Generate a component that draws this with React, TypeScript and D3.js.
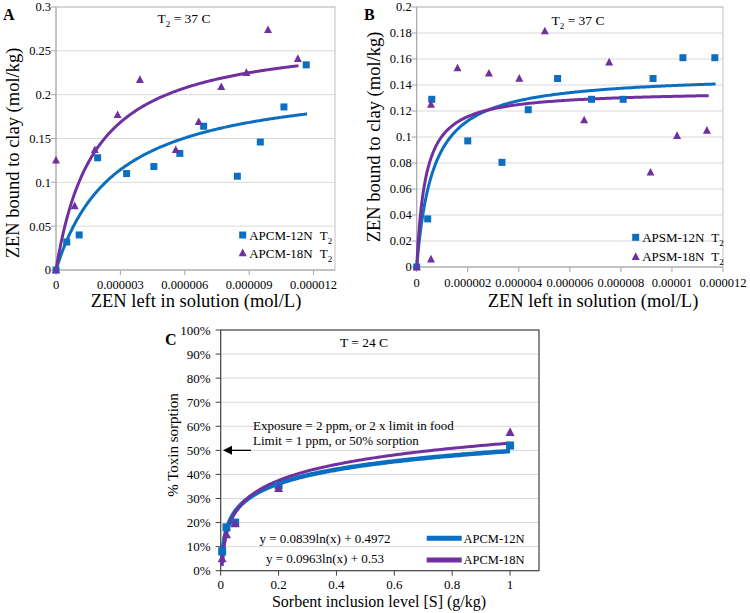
import React from "react";
import * as d3 from "d3";

// ---------- Panel A data ----------
const A_SQ_X = [0, 0.5e-6, 1.08e-6, 1.94e-6, 3.29e-6, 4.56e-6, 5.77e-6, 6.88e-6, 8.45e-6, 9.52e-6, 10.62e-6, 11.66e-6];
const A_SQ_Y = [0, 0.032, 0.04, 0.128, 0.11, 0.118, 0.133, 0.164, 0.107, 0.146, 0.186, 0.234];
const A_TRI_X = [0, 0, 0.87e-6, 1.81e-6, 2.87e-6, 3.91e-6, 5.58e-6, 6.65e-6, 7.7e-6, 8.87e-6, 9.88e-6, 11.27e-6];
const A_TRI_Y = [0.125, 0, 0.073, 0.137, 0.177, 0.217, 0.137, 0.169, 0.209, 0.225, 0.274, 0.241];
const A_X_TICKS = [0, 3e-6, 6e-6, 9e-6, 12e-6];
const A_X_LABELS = ["0", "0.000003", "0.000006", "0.000009", "0.000012"];
const A_Y_TICKS = [0, 0.05, 0.1, 0.15, 0.2, 0.25, 0.3];
const A_Y_LABELS = ["0", "0.05", "0.1", "0.15", "0.2", "0.25", "0.3"];
// Langmuir fit parameters [Qmax, K, xEnd]
const A_FIT_12 = [0.2203, 0.36e6, 11.7e-6];
const A_FIT_18 = [0.2705, 0.55e6, 11.3e-6];
const A_SERIES = ["APCM-12N", "APCM-18N"];

// ---------- Panel B data ----------
const B_SQ_X = [0, 0.43e-6, 0.59e-6, 2.0e-6, 3.34e-6, 4.37e-6, 5.52e-6, 6.85e-6, 8.09e-6, 9.26e-6, 10.43e-6, 11.68e-6];
const B_SQ_Y = [0, 0.037, 0.129, 0.097, 0.0805, 0.121, 0.145, 0.129, 0.129, 0.145, 0.161, 0.161];
const B_TRI_X = [0, 0.56e-6, 0.56e-6, 1.6e-6, 2.83e-6, 4.02e-6, 5.02e-6, 6.56e-6, 7.54e-6, 9.16e-6, 10.2e-6, 11.37e-6];
const B_TRI_Y = [0, 0.006, 0.125, 0.153, 0.149, 0.145, 0.1815, 0.113, 0.1575, 0.0728, 0.101, 0.105];
const B_X_TICKS = [0, 2e-6, 4e-6, 6e-6, 8e-6, 10e-6, 12e-6];
const B_X_LABELS = ["0", "0.000002", "0.000004", "0.000006", "0.000008", "0.00001", "0.000012"];
const B_Y_TICKS = [0, 0.02, 0.04, 0.06, 0.08, 0.1, 0.12, 0.14, 0.16, 0.18, 0.2];
const B_Y_LABELS = ["0", "0.02", "0.04", "0.06", "0.08", "0.1", "0.12", "0.14", "0.16", "0.18", "0.2"];
const B_FIT_12 = [0.1485, 1.555e6, 11.71e-6];
const B_FIT_18 = [0.1358, 2.88e6, 11.44e-6];
const B_SERIES = ["APSM-12N", "APSM-18N"];

// ---------- Panel C data ----------
const C_X = [0.005, 0.02, 0.05, 0.2, 1];
const C_SQ_Y = [0.08, 0.18, 0.2, 0.355, 0.52];
const C_TRI_Y = [0.05, 0.15, 0.195, 0.342, 0.575];
const C_X_TICKS = [0, 0.2, 0.4, 0.6, 0.8, 1];
const C_X_LABELS = ["0", "0.2", "0.4", "0.6", "0.8", "1"];
const C_Y_TICKS = [0, 0.1, 0.2, 0.3, 0.4, 0.5, 0.6, 0.7, 0.8, 0.9, 1];
const C_Y_LABELS = ["0%", "10%", "20%", "30%", "40%", "50%", "60%", "70%", "80%", "90%", "100%"];
// log fits [a, b]
const C_FIT_12 = [0.0839, 0.4972];
const C_FIT_18 = [0.0963, 0.53];
const C_SERIES = ["APCM-12N", "APCM-18N"];
const C_EQS = ["y = 0.0839ln(x) + 0.4972", "y = 0.0963ln(x) + 0.53"];

const BLUE = "#0a6fc0";
const PURPLE = "#7030a0";
const GRID = "#d9d9d9";
const FONT = "Liberation Serif";

function Txt(p: any) {
  const { style, children, ...rest } = p;
  return (
    <text {...rest} style={{ fontFamily: FONT, ...(style || {}) }}>
      {children}
    </text>
  );
}

const sq = (x: number, y: number, s: number) => `M${x - s / 2},${y - s / 2}h${s}v${s}h${-s}Z`;
const tri = (x: number, y: number, s: number) =>
  `M${x},${y - s * 0.55}L${x + s / 2},${y + s * 0.4}L${x - s / 2},${y + s * 0.4}Z`;

function langmuirPts(p: number[]) {
  const [Q, K, xe] = p;
  return d3.range(0, 201).map((i) => {
    const x = (xe * i) / 200;
    return [x, (Q * K * x) / (1 + K * x)] as [number, number];
  });
}
function logPts(p: number[], x0: number, x1: number) {
  const [a, b] = p;
  return d3.range(0, 301).map((i) => {
    const x = Math.exp(Math.log(x0) + ((Math.log(x1) - Math.log(x0)) * i) / 300);
    return [x, a * Math.log(x) + b] as [number, number];
  });
}

function IsoPanel(props: any) {
  const { x, y, sqX, sqY, triX, triY, xTicks, xLabels, yTicks, yLabels, fit12, fit18, series, letter, letterX, yTitleX, yTitleY, xTitleX, tX, tY, legX, legY1, legY2, xLabY } = props;
  const line = d3.line<[number, number]>().x((d) => x(d[0])).y((d) => y(d[1]));
  const [x0, x1] = x.range();
  const [y0, y1] = y.range();
  return (
    <g>
      {yTicks.map((t: number, i: number) => (
        <g key={"g" + i}>
          {i > 0 && <line x1={x0} x2={x1} y1={y(t)} y2={y(t)} stroke={GRID} strokeWidth={1} />}
          <line x1={x0 - 5} x2={x0} y1={y(t)} y2={y(t)} stroke="#a6a6a6" />
          <Txt x={x0 - 5} y={y(t)} dy="0.35em" textAnchor="end" fontSize={12.5}>{yLabels[i]}</Txt>
        </g>
      ))}
      <rect x={x0} y={y1} width={x1 - x0} height={y0 - y1} fill="none" stroke="#bfbfbf" />
      <line x1={x0} x2={x0} y1={y1} y2={y0} stroke="#a6a6a6" />
      <line x1={x0} x2={x1} y1={y0} y2={y0} stroke="#a6a6a6" />
      {xTicks.map((t: number, i: number) => (
        <g key={"x" + i}>
          <line x1={x(t)} x2={x(t)} y1={y0} y2={y0 + 5} stroke="#a6a6a6" />
          <Txt x={x(t)} y={xLabY} textAnchor="middle" fontSize={12.5}>{xLabels[i]}</Txt>
        </g>
      ))}
      <path d={line(langmuirPts(fit12)) || ""} fill="none" stroke={BLUE} strokeWidth={3} />
      <path d={line(langmuirPts(fit18)) || ""} fill="none" stroke={PURPLE} strokeWidth={3} />
      {sqX.map((v: number, i: number) => (
        <path key={"s" + i} d={sq(x(v), y(sqY[i]), 7)} fill={BLUE} />
      ))}
      {triX.map((v: number, i: number) => (
        <path key={"t" + i} d={tri(x(v), y(triY[i]), 8)} fill={PURPLE} />
      ))}
      <Txt x={letterX} y={20} fontWeight="bold" fontSize={16}>{letter}</Txt>
      <Txt x={tX} y={tY} fontSize={13.5} textAnchor="middle">
        T<tspan fontSize={9} dy={4}>2</tspan><tspan dy={-4}> = 37 C</tspan>
      </Txt>
      <Txt transform={`translate(${yTitleX},${yTitleY}) rotate(-90)`} textAnchor="middle" dominantBaseline="central" fontSize={18.5}>
        ZEN bound to clay (mol/kg)
      </Txt>
      <Txt x={xTitleX} y={307} textAnchor="middle" fontSize={18.5}>ZEN left in solution (mol/L)</Txt>
      <path d={sq(legX, legY1, 7)} fill={BLUE} />
      <path d={tri(legX, legY2, 8)} fill={PURPLE} />
      {[legY1, legY2].map((ly: number, i: number) => (
        <Txt key={"l" + i} x={legX + 6.5} y={ly} dy="0.35em" fontSize={13}>
          {series[i]}<tspan dx={7}>T</tspan><tspan fontSize={9} dy={4}>2</tspan>
        </Txt>
      ))}
    </g>
  );
}

export default function App() {
  const xA = d3.scaleLinear().domain([0, 13e-6]).range([56, 335]);
  const yA = d3.scaleLinear().domain([0, 0.3]).range([270, 7]);
  const xB = d3.scaleLinear().domain([0, 12e-6]).range([416.7, 723]);
  const yB = d3.scaleLinear().domain([0, 0.2]).range([267, 7]);
  const xC = d3.scaleLinear().domain([0, 1.1]).range([220.7, 539]);
  const yC = d3.scaleLinear().domain([0, 1]).range([570.7, 330]);
  const lineC = d3.line<[number, number]>().x((d) => xC(d[0])).y((d) => yC(d[1]));
  const xMin = d3.min(C_X) as number;
  const xMax = d3.max(C_X) as number;
  const [cx0, cx1] = xC.range();
  const [cy0, cy1] = yC.range();

  return (
    <svg width={750} height={613} style={{ position: "absolute", left: 0, top: 0, background: "#fff" }}>
      <rect x={0} y={0} width={750} height={613} fill="#fff" />
      <IsoPanel x={xA} y={yA} sqX={A_SQ_X} sqY={A_SQ_Y} triX={A_TRI_X} triY={A_TRI_Y}
        xTicks={A_X_TICKS} xLabels={A_X_LABELS} yTicks={A_Y_TICKS} yLabels={A_Y_LABELS}
        fit12={A_FIT_12} fit18={A_FIT_18} series={A_SERIES} letter="A" letterX={3}
        yTitleX={13} yTitleY={153} xTitleX={196} tX={184} tY={23} legX={242.7} legY1={235} legY2={253} xLabY={289} />
      <IsoPanel x={xB} y={yB} sqX={B_SQ_X} sqY={B_SQ_Y} triX={B_TRI_X} triY={B_TRI_Y}
        xTicks={B_X_TICKS} xLabels={B_X_LABELS} yTicks={B_Y_TICKS} yLabels={B_Y_LABELS}
        fit12={B_FIT_12} fit18={B_FIT_18} series={B_SERIES} letter="B" letterX={364}
        yTitleX={374} yTitleY={137} xTitleX={593} tX={578} tY={25} legX={635.7} legY1={237.3} legY2={256.7} xLabY={286.5} />

      {/* Panel C */}
      <g>
        {C_Y_TICKS.map((t, i) => (
          <g key={"cg" + i}>
            {i > 0 && i < C_Y_TICKS.length - 1 && <line x1={cx0} x2={cx1} y1={yC(t)} y2={yC(t)} stroke={GRID} />}
            <line x1={cx0 - 5} x2={cx0} y1={yC(t)} y2={yC(t)} stroke="#404040" />
            <Txt x={cx0 - 10} y={yC(t)} dy="0.35em" textAnchor="end" fontSize={13}>{C_Y_LABELS[i]}</Txt>
          </g>
        ))}
        <rect x={cx0} y={cy1} width={cx1 - cx0} height={cy0 - cy1} fill="none" stroke="#404040" strokeWidth={1.2} />
        {C_X_TICKS.map((t, i) => (
          <g key={"cx" + i}>
            <line x1={xC(t)} x2={xC(t)} y1={cy0} y2={cy0 + 5} stroke="#404040" />
            <Txt x={xC(t)} y={588.5} textAnchor="middle" fontSize={13}>{C_X_LABELS[i]}</Txt>
          </g>
        ))}
        <path d={lineC(logPts(C_FIT_12, xMin, xMax)) || ""} fill="none" stroke={BLUE} strokeWidth={4.5} />
        <path d={lineC(logPts(C_FIT_18, xMin, xMax)) || ""} fill="none" stroke={PURPLE} strokeWidth={3} />
        {C_X.map((v, i) => (
          <path key={"cs" + i} d={sq(xC(v), yC(C_SQ_Y[i]), 8)} fill={BLUE} />
        ))}
        {C_X.map((v, i) => (
          <path key={"ct" + i} d={tri(xC(v), yC(C_TRI_Y[i]), 9)} fill={PURPLE} />
        ))}
        <Txt x={165} y={345} fontWeight="bold" fontSize={16}>C</Txt>
        <Txt x={364} y={347} textAnchor="middle" fontSize={13.5}>T = 24 C</Txt>
        <Txt x={253} y={430} fontSize={13}>Exposure = 2 ppm, or 2 x limit in food</Txt>
        <Txt x={253} y={445} fontSize={13}>Limit = 1 ppm, or 50% sorption</Txt>
        <line x1={251} x2={230} y1={yC(0.5)} y2={yC(0.5)} stroke="#000" strokeWidth={1.3} />
        <path d={`M${223},${yC(0.5)}l9,-4.5v9Z`} fill="#000" />
        <Txt x={325} y={538} dy="0.35em" textAnchor="middle" fontSize={13}>{C_EQS[0]}</Txt>
        <Txt x={325} y={558} dy="0.35em" textAnchor="middle" fontSize={13}>{C_EQS[1]}</Txt>
        <line x1={426.7} x2={461.7} y1={538.3} y2={538.3} stroke={BLUE} strokeWidth={5} />
        <line x1={426.7} x2={461.7} y1={560} y2={560} stroke={PURPLE} strokeWidth={5} />
        <Txt x={463.5} y={538.3} dy="0.35em" fontSize={12.5}>{C_SERIES[0]}</Txt>
        <Txt x={463.5} y={560} dy="0.35em" fontSize={12.5}>{C_SERIES[1]}</Txt>
        <Txt transform={`translate(173,445) rotate(-90)`} textAnchor="middle" dominantBaseline="central" fontSize={15}>
          % Toxin sorption
        </Txt>
        <Txt x={379} y={606.5} textAnchor="middle" fontSize={16}>Sorbent inclusion level [S] (g/kg)</Txt>
      </g>
    </svg>
  );
}
